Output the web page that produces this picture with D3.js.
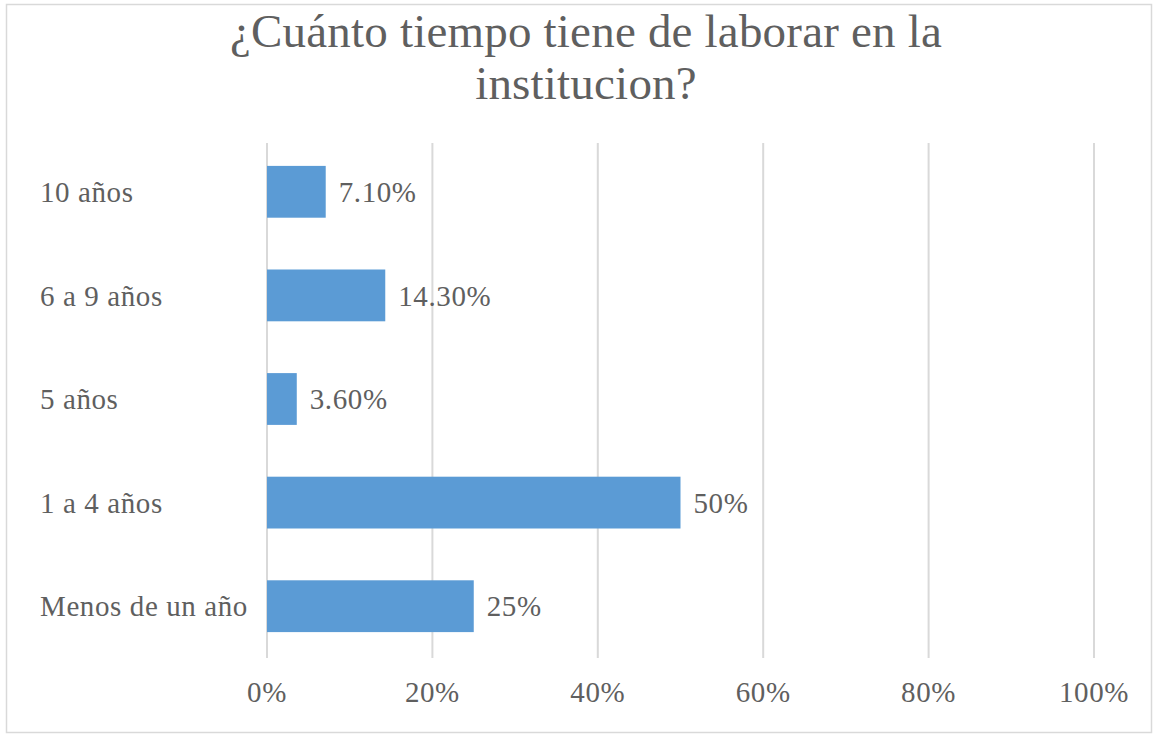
<!DOCTYPE html>
<html>
<head>
<meta charset="utf-8">
<script src="https://cdn.jsdelivr.net/npm/d3@7"></script>
<style>
  body { margin: 0; background: #fff; }
  svg { display: block; }
</style>
</head>
<body>
<svg id="chart" width="1156" height="736"></svg>
<script>
// Survey answers: how long the respondent has worked at the institution
const categories = ["10 años", "6 a 9 años", "5 años", "1 a 4 años", "Menos de un año"];
const values = [7.1, 14.3, 3.6, 50, 25];
const valueLabels = ["7.10%", "14.30%", "3.60%", "50%", "25%"];
const ticks = [0, 20, 40, 60, 80, 100];
const titleLines = ["¿Cuánto tiempo tiene de laborar en la", "institucion?"];

const svg = d3.select("#chart");
const font = "'Liberation Serif', 'Times New Roman', serif";
const textColor = "#5f5f5f";
const labelSize = 29;
const labelSpacing = 0.6;

// outer frame
svg.append("rect")
  .attr("x", 6.5).attr("y", 4.5)
  .attr("width", 1145).attr("height", 728)
  .attr("fill", "#fff").attr("stroke", "#d9d9d9").attr("stroke-width", 1.5);

// title
svg.append("g").selectAll("text")
  .data(titleLines)
  .join("text")
  .attr("x", 586)
  .attr("y", (d, i) => 47 + i * 52)
  .attr("text-anchor", "middle")
  .attr("font-family", font)
  .attr("font-size", 47)
  .attr("letter-spacing", 0.2)
  .attr("fill", textColor)
  .text(d => d);

const x = d3.scaleLinear().domain([0, 100]).range([267, 1094]);
const y = d3.scaleBand().domain(categories).range([140, 658]).paddingInner(0.5).paddingOuter(0.25);

// vertical gridlines
svg.append("g").selectAll("line")
  .data(ticks)
  .join("line")
  .attr("x1", d => x(d)).attr("x2", d => x(d))
  .attr("y1", 143).attr("y2", 658)
  .attr("stroke", "#d9d9d9").attr("stroke-width", 2);

// x-axis tick labels
svg.append("g").selectAll("text")
  .data(ticks)
  .join("text")
  .attr("x", d => x(d))
  .attr("y", 702)
  .attr("text-anchor", "middle")
  .attr("font-family", font)
  .attr("font-size", labelSize)
  .attr("letter-spacing", labelSpacing)
  .attr("fill", textColor)
  .text(d => d + "%");

// category labels
svg.append("g").selectAll("text")
  .data(categories)
  .join("text")
  .attr("x", 40)
  .attr("y", d => y(d) + y.bandwidth() / 2)
  .attr("dy", "0.35em")
  .attr("font-family", font)
  .attr("font-size", labelSize)
  .attr("letter-spacing", labelSpacing)
  .attr("fill", textColor)
  .text(d => d);

// bars
svg.append("g").selectAll("rect")
  .data(values)
  .join("rect")
  .attr("x", x(0))
  .attr("y", (d, i) => y(categories[i]))
  .attr("width", d => x(d) - x(0))
  .attr("height", y.bandwidth())
  .attr("fill", "#5b9bd5");

// value labels
svg.append("g").selectAll("text")
  .data(values)
  .join("text")
  .attr("x", d => x(d) + 13)
  .attr("y", (d, i) => y(categories[i]) + y.bandwidth() / 2)
  .attr("dy", "0.35em")
  .attr("font-family", font)
  .attr("font-size", labelSize)
  .attr("letter-spacing", labelSpacing)
  .attr("fill", textColor)
  .text((d, i) => valueLabels[i]);
</script>
</body>
</html>
